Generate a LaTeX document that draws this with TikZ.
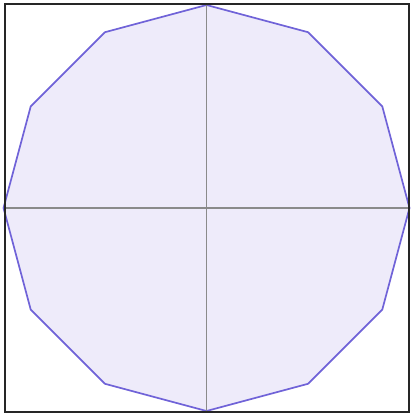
\documentclass[tikz,border=0pt]{standalone}
\usepackage{xcolor}
\usepackage{tikz}
\usetikzlibrary{calc}
\definecolor{polyline}{HTML}{7063D8}
\definecolor{polyfill}{HTML}{EEEBFA}
\definecolor{axisgrey}{HTML}{8A8A8A}

\begin{document}
\begin{tikzpicture}[x=1pt, y=-1pt,
  frame/.style={draw=black!85, line width=2pt},
  dodec/.style={draw=polyline, fill=polyfill, line width=1.7pt, line join=round},
  axis/.style={draw=axisgrey, line width=1.7pt}]
\useasboundingbox (0,0) rectangle (410,414);
\coordinate (o) at (206.5,208);
\foreach \k in {0,...,11}
  \coordinate (v\k) at ($(o)+({90-30*\k}:{203})$);
\draw[dodec] (v0) \foreach \k in {1,...,11}{ -- (v\k)} -- cycle;
\draw[axis] (v0) -- (v6);
\draw[axis] (v3) -- (v9);
\draw[frame] (4.5,4.5) rectangle (408.5,411.5);
\end{tikzpicture}
\end{document}
